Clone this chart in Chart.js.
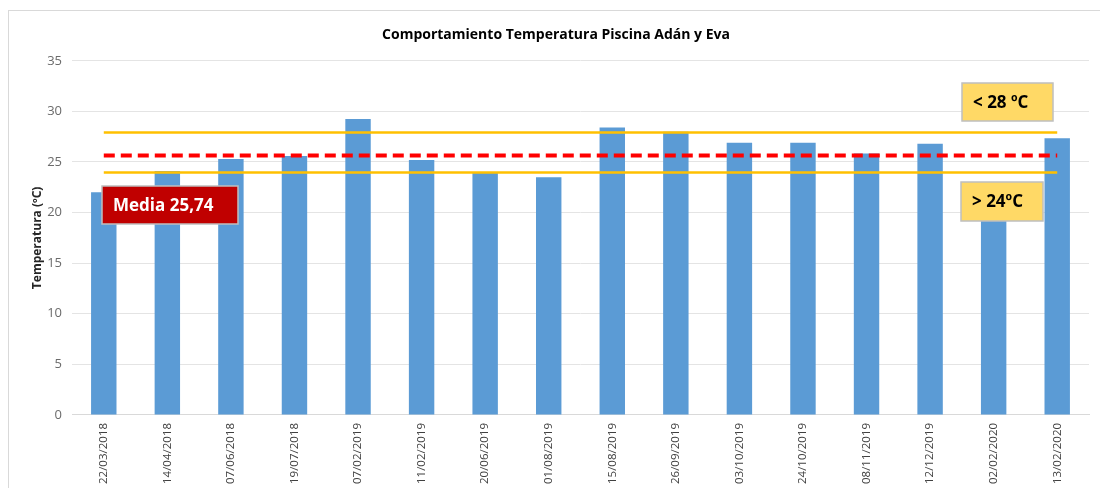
<!DOCTYPE html>
<html>
<head>
<meta charset="utf-8">
<script src="https://cdn.jsdelivr.net/npm/chart.js@4.4.1/dist/chart.umd.min.js"></script>
<style>
  html, body { margin: 0; padding: 0; background: #fff; }
  #wrap { position: relative; width: 1100px; height: 488px; overflow: hidden; }
  #frame { position: absolute; left: 8px; top: 10px; width: 1200px; height: 600px; border: 1px solid #d9d9d9; }
  canvas { position: absolute; left: 0; top: 0; }
</style>
</head>
<body>
<div id="wrap">
  <div id="frame"></div>
  <canvas id="grafico" width="1100" height="488"></canvas>
</div>
<script>
// Fechas de medición
const fechas = [
  '22/03/2018', '14/04/2018', '07/06/2018', '19/07/2018',
  '07/02/2019', '11/02/2019', '20/06/2019', '01/08/2019',
  '15/08/2019', '26/09/2019', '03/10/2019', '24/10/2019',
  '08/11/2019', '12/12/2019', '02/02/2020', '13/02/2020'
];

// Temperatura del agua (ºC)
const temperaturas = [
  22.0, 24.1, 25.3, 25.6,
  29.25, 25.2, 23.9, 23.5,
  28.4, 28.0, 26.9, 26.9,
  25.85, 26.8, 22.8, 27.35
];

// Límites de referencia y media
const limiteSuperior = 28;
const limiteInferior = 24;
const media = 25.74;

// Escala del eje vertical
const ejeMin = 0;
const ejeMax = 35;
const ejePaso = 5;

const FUENTE = "'Open Sans', 'Liberation Sans', sans-serif";

// Líneas horizontales de límites y media, dibujadas sobre las barras
const lineasReferencia = {
  id: 'lineasReferencia',
  afterDatasetsDraw(chart) {
    const { ctx, scales: { x, y } } = chart;
    const x0 = x.getPixelForValue(0);
    const x1 = x.getPixelForValue(fechas.length - 1);
    const linea = (valor, color, ancho, guion) => {
      const py = Math.round(y.getPixelForValue(valor)) + 0.5;
      ctx.save();
      ctx.strokeStyle = color;
      ctx.lineWidth = ancho;
      ctx.setLineDash(guion);
      ctx.beginPath();
      ctx.moveTo(x0, py);
      ctx.lineTo(x1, py);
      ctx.stroke();
      ctx.restore();
    };
    linea(limiteSuperior, '#FFC000', 2.5, []);
    linea(limiteInferior, '#FFC000', 2.5, []);
    linea(media, '#FF0000', 4, [11, 6]);
  }
};

// Cuadros de texto
const cuadros = {
  id: 'cuadros',
  afterDraw(chart) {
    const { ctx } = chart;
    const caja = (x, y, w, h, fondo, colorTexto, texto) => {
      ctx.save();
      ctx.fillStyle = fondo;
      ctx.fillRect(x, y, w, h);
      ctx.strokeStyle = '#BFBFBF';
      ctx.lineWidth = 1.5;
      ctx.strokeRect(x, y, w, h);
      ctx.fillStyle = colorTexto;
      ctx.font = `bold 17px ${FUENTE}`;
      ctx.textBaseline = 'middle';
      ctx.textAlign = 'left';
      ctx.fillText(texto, x + 11, y + h / 2 + 1);
      ctx.restore();
    };
    caja(962, 83, 91, 38, '#FFD966', '#000000', '< ' + limiteSuperior + ' ºC');
    caja(961, 182, 82, 39, '#FFD966', '#000000', '> ' + limiteInferior + 'ºC');
    caja(102, 186, 136, 38, '#C00000', '#FFFFFF', 'Media ' + media.toFixed(2).replace('.', ','));
  }
};

new Chart(document.getElementById('grafico'), {
  type: 'bar',
  data: {
    labels: fechas,
    datasets: [{
      label: 'Temperatura',
      data: temperaturas,
      backgroundColor: '#5B9BD5',
      borderWidth: 0,
      barPercentage: 0.4,
      categoryPercentage: 1.0
    }]
  },
  options: {
    responsive: false,
    animation: false,
    devicePixelRatio: 1,
    layout: { padding: { left: 23, right: 11, top: 10, bottom: -4 } },
    plugins: {
      legend: { display: false },
      tooltip: { enabled: false },
      title: {
        display: true,
        text: 'Comportamiento Temperatura Piscina Adán y Eva',
        color: '#000000',
        font: { family: FUENTE, size: 14, weight: 'bold' },
        padding: { top: 17, bottom: 17 }
      }
    },
    scales: {
      x: {
        grid: { display: false, drawTicks: false },
        border: { display: true, color: '#d9d9d9', width: 1 },
        ticks: {
          autoSkip: false,
          minRotation: 90,
          maxRotation: 90,
          padding: 8,
          color: '#404040',
          font: { family: FUENTE, size: 11.5 }
        }
      },
      y: {
        min: ejeMin,
        max: ejeMax,
        grid: { color: '#e4e4e4', lineWidth: 1, drawTicks: false },
        border: { display: false },
        ticks: {
          stepSize: ejePaso,
          padding: 10,
          color: '#6b6b6b',
          font: { family: FUENTE, size: 13 }
        },
        title: {
          display: true,
          text: 'Temperatura (ºC)',
          color: '#262626',
          font: { family: FUENTE, size: 12, weight: 'bold' },
          padding: { top: 7, bottom: 0 }
        },
        afterFit(scale) { scale.width = 49; }
      }
    }
  },
  plugins: [lineasReferencia, cuadros]
});
</script>
</body>
</html>
